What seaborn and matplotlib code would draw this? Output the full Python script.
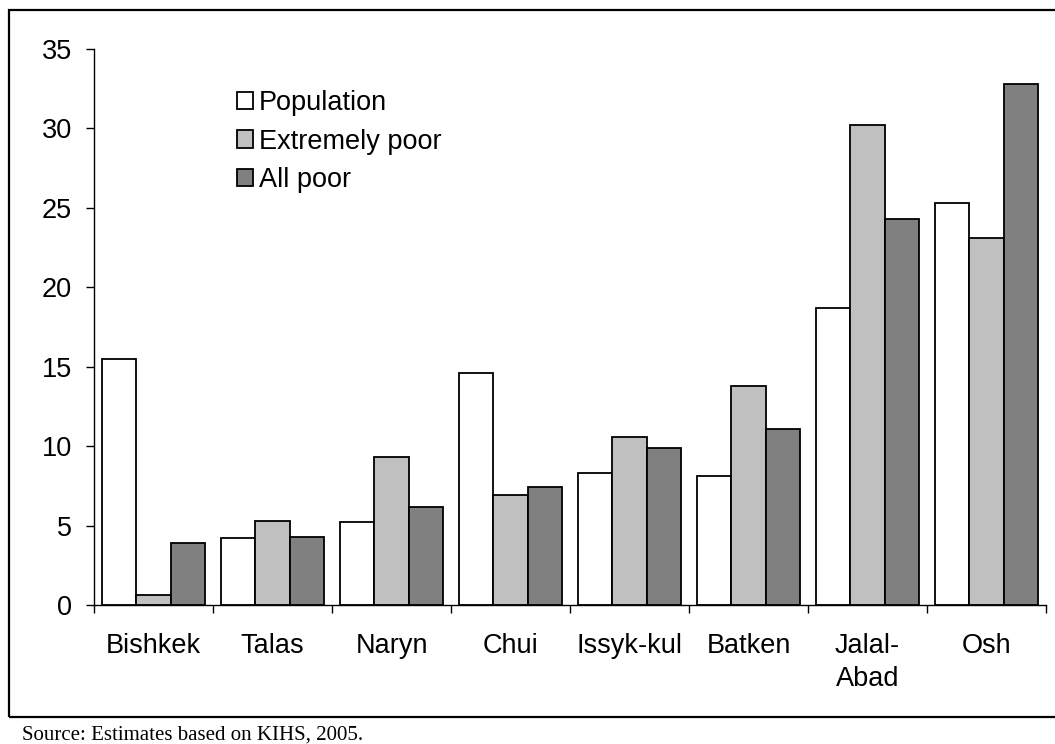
from __future__ import annotations

import matplotlib
matplotlib.use("Agg")
import matplotlib.pyplot as plt
import pandas as pd
import seaborn as sns
from matplotlib.patches import Rectangle
from matplotlib.ticker import FixedLocator


REGIONS = ["Bishkek", "Talas", "Naryn", "Chui", "Issyk-kul", "Batken", "Jalal-\nAbad", "Osh"]
POPULATION = [15.5, 4.2, 5.2, 14.6, 8.3, 8.1, 18.7, 25.3]
EXTREMELY_POOR = [0.6, 5.3, 9.3, 6.9, 10.6, 13.8, 30.2, 23.1]
ALL_POOR = [3.9, 4.3, 6.2, 7.4, 9.9, 11.1, 24.3, 32.8]
SERIES = ["Population", "Extremely poor", "All poor"]
COLORS = ["#ffffff", "#c0c0c0", "#808080"]
Y_TICKS = [0, 5, 10, 15, 20, 25, 30, 35]
SOURCE = "Source: Estimates based on KIHS, 2005."


def build_frame() -> pd.DataFrame:
    rows = []
    for name, values in zip(SERIES, [POPULATION, EXTREMELY_POOR, ALL_POOR]):
        for region, v in zip(REGIONS, values):
            rows.append({"region": region, "series": name, "value": v})
    return pd.DataFrame(rows)


def main() -> None:
    df = build_frame()

    sns.set_theme(style="white")
    plt.rcParams["font.family"] = ["Liberation Sans", "DejaVu Sans"]
    plt.rcParams["text.color"] = "black"
    plt.rcParams["xtick.color"] = "black"
    plt.rcParams["ytick.color"] = "black"

    fig = plt.figure(figsize=(10.55, 7.44), dpi=100)
    ax = fig.add_axes([94 / 1055, 1 - 605 / 744, (1046 - 94) / 1055, (605 - 49) / 744])

    sns.barplot(
        data=df,
        x="region",
        y="value",
        hue="series",
        order=REGIONS,
        hue_order=SERIES,
        palette=COLORS,
        edgecolor="black",
        linewidth=1.3,
        width=0.86,
        saturation=1,
        ax=ax,
    )

    ax.set_xlim(-0.5, len(REGIONS) - 0.5)
    ax.set_ylim(0, 35)
    ax.set_yticks(Y_TICKS)
    ax.set_xlabel("")
    ax.set_ylabel("")

    for side in ["top", "right"]:
        ax.spines[side].set_visible(False)
    for side in ["left", "bottom"]:
        ax.spines[side].set_color("black")
        ax.spines[side].set_linewidth(1.0)

    ax.tick_params(axis="y", which="major", direction="out", length=6, width=1,
                   colors="black", labelsize=19.5, pad=10, left=True)
    ax.tick_params(axis="x", which="major", length=0, labelsize=19.5, pad=20.5,
                   labelcolor="black")
    for lab in ax.get_xticklabels():
        lab.set_linespacing(1.35)
    ax.xaxis.set_minor_locator(FixedLocator([i - 0.5 for i in range(len(REGIONS) + 1)]))
    ax.tick_params(axis="x", which="minor", direction="out", length=6, width=1,
                   color="black", bottom=True)

    handles, labels = ax.get_legend_handles_labels()
    ax.legend(
        handles,
        labels,
        loc="upper left",
        bbox_to_anchor=(0.139, 0.945),
        frameon=False,
        fontsize=19.5,
        handlelength=0.6,
        handleheight=0.6,
        handletextpad=0.2,
        labelspacing=0.45,
        borderaxespad=0,
    )

    # outer frame around the chart, as in the original report
    fig.add_artist(Rectangle((9 / 1055, 1 - 717 / 744), 1.0, (717 - 10) / 744,
                             transform=fig.transFigure, fill=False,
                             edgecolor="black", linewidth=1.6))
    fig.text(22 / 1055, 1 - 726 / 744, SOURCE, ha="left", va="top",
             fontsize=15, family=["Liberation Serif", "DejaVu Serif"])

    fig.savefig("out.png", dpi=100)
    plt.close(fig)


if __name__ == "__main__":
    main()
